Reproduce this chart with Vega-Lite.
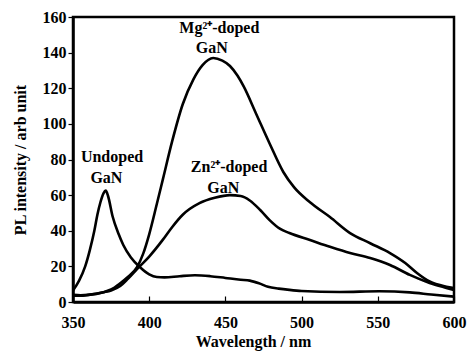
{
  "$schema": "https://vega.github.io/schema/vega-lite/v6.json",
  "width": 381,
  "height": 285,
  "autosize": {"type": "none"},
  "padding": {"left": 73, "top": 17, "right": 17, "bottom": 51},
  "background": "white",
  "config": {
    "view": {"stroke": "black", "strokeWidth": 2.5},
    "font": "Liberation Serif",
    "axis": {
      "grid": false,
      "domainColor": "black",
      "domainWidth": 2.5,
      "tickColor": "black",
      "tickWidth": 1.2,
      "labelFont": "Liberation Serif",
      "labelFontWeight": "bold",
      "labelFontSize": 16,
      "labelColor": "black",
      "labelOverlap": false,
      "titleFont": "Liberation Serif",
      "titleFontWeight": "bold",
      "titleFontSize": 16,
      "titleColor": "black"
    }
  },
  "datasets": {
    "spectra": [
      {"series": "Undoped", "wl": 350, "pl": 6.5},
      {"series": "Undoped", "wl": 354, "pl": 12},
      {"series": "Undoped", "wl": 358, "pl": 20},
      {"series": "Undoped", "wl": 361, "pl": 29},
      {"series": "Undoped", "wl": 364, "pl": 40},
      {"series": "Undoped", "wl": 366, "pl": 49},
      {"series": "Undoped", "wl": 368, "pl": 56},
      {"series": "Undoped", "wl": 370, "pl": 61},
      {"series": "Undoped", "wl": 371.5, "pl": 62.5},
      {"series": "Undoped", "wl": 373, "pl": 59.5},
      {"series": "Undoped", "wl": 376, "pl": 48},
      {"series": "Undoped", "wl": 380, "pl": 38},
      {"series": "Undoped", "wl": 383, "pl": 32},
      {"series": "Undoped", "wl": 388, "pl": 25},
      {"series": "Undoped", "wl": 394, "pl": 19.5},
      {"series": "Undoped", "wl": 400, "pl": 15.5},
      {"series": "Undoped", "wl": 405, "pl": 14},
      {"series": "Undoped", "wl": 410, "pl": 13.8},
      {"series": "Undoped", "wl": 420, "pl": 14.5},
      {"series": "Undoped", "wl": 430, "pl": 15},
      {"series": "Undoped", "wl": 440, "pl": 14.5},
      {"series": "Undoped", "wl": 450, "pl": 13.5},
      {"series": "Undoped", "wl": 460, "pl": 12.5},
      {"series": "Undoped", "wl": 466, "pl": 12},
      {"series": "Undoped", "wl": 472, "pl": 10.5},
      {"series": "Undoped", "wl": 478, "pl": 8.5},
      {"series": "Undoped", "wl": 485, "pl": 7.5},
      {"series": "Undoped", "wl": 492, "pl": 6.8},
      {"series": "Undoped", "wl": 500, "pl": 6.2},
      {"series": "Undoped", "wl": 525, "pl": 5.6},
      {"series": "Undoped", "wl": 551, "pl": 6},
      {"series": "Undoped", "wl": 571, "pl": 5.4},
      {"series": "Undoped", "wl": 585, "pl": 4.2},
      {"series": "Undoped", "wl": 600, "pl": 3},
      {"series": "Mg", "wl": 350, "pl": 4},
      {"series": "Mg", "wl": 355, "pl": 3.8},
      {"series": "Mg", "wl": 360, "pl": 4},
      {"series": "Mg", "wl": 370, "pl": 5.5},
      {"series": "Mg", "wl": 375, "pl": 7},
      {"series": "Mg", "wl": 381, "pl": 10.5},
      {"series": "Mg", "wl": 386, "pl": 14},
      {"series": "Mg", "wl": 392, "pl": 19.5},
      {"series": "Mg", "wl": 396, "pl": 27},
      {"series": "Mg", "wl": 400, "pl": 38},
      {"series": "Mg", "wl": 405, "pl": 55},
      {"series": "Mg", "wl": 409, "pl": 69},
      {"series": "Mg", "wl": 415, "pl": 90},
      {"series": "Mg", "wl": 422, "pl": 111},
      {"series": "Mg", "wl": 429, "pl": 125},
      {"series": "Mg", "wl": 435, "pl": 133},
      {"series": "Mg", "wl": 442, "pl": 137},
      {"series": "Mg", "wl": 448, "pl": 135.5},
      {"series": "Mg", "wl": 453, "pl": 132.5},
      {"series": "Mg", "wl": 458, "pl": 127},
      {"series": "Mg", "wl": 462, "pl": 121},
      {"series": "Mg", "wl": 470, "pl": 106},
      {"series": "Mg", "wl": 479, "pl": 89},
      {"series": "Mg", "wl": 488, "pl": 73},
      {"series": "Mg", "wl": 495, "pl": 64.5},
      {"series": "Mg", "wl": 505.5, "pl": 56},
      {"series": "Mg", "wl": 518.6, "pl": 47.7},
      {"series": "Mg", "wl": 531.8, "pl": 38.7},
      {"series": "Mg", "wl": 545, "pl": 33},
      {"series": "Mg", "wl": 558, "pl": 27.5},
      {"series": "Mg", "wl": 568, "pl": 21.9},
      {"series": "Mg", "wl": 575.7, "pl": 16.3},
      {"series": "Mg", "wl": 584, "pl": 11.5},
      {"series": "Mg", "wl": 595, "pl": 8.6},
      {"series": "Mg", "wl": 600, "pl": 7.8},
      {"series": "Zn", "wl": 350, "pl": 3.5},
      {"series": "Zn", "wl": 355, "pl": 3.5},
      {"series": "Zn", "wl": 360, "pl": 4},
      {"series": "Zn", "wl": 370, "pl": 5.5},
      {"series": "Zn", "wl": 375, "pl": 6.5},
      {"series": "Zn", "wl": 381, "pl": 9},
      {"series": "Zn", "wl": 386, "pl": 13},
      {"series": "Zn", "wl": 392, "pl": 18.5},
      {"series": "Zn", "wl": 400, "pl": 25.5},
      {"series": "Zn", "wl": 409, "pl": 35},
      {"series": "Zn", "wl": 415, "pl": 42},
      {"series": "Zn", "wl": 422, "pl": 49},
      {"series": "Zn", "wl": 433, "pl": 55.5},
      {"series": "Zn", "wl": 443, "pl": 58.5},
      {"series": "Zn", "wl": 453, "pl": 60},
      {"series": "Zn", "wl": 460, "pl": 59.5},
      {"series": "Zn", "wl": 466, "pl": 57},
      {"series": "Zn", "wl": 473, "pl": 51.5},
      {"series": "Zn", "wl": 479, "pl": 46},
      {"series": "Zn", "wl": 486, "pl": 41},
      {"series": "Zn", "wl": 492, "pl": 38.7},
      {"series": "Zn", "wl": 505.5, "pl": 34.8},
      {"series": "Zn", "wl": 518.6, "pl": 31},
      {"series": "Zn", "wl": 531.8, "pl": 27.5},
      {"series": "Zn", "wl": 545, "pl": 24.7},
      {"series": "Zn", "wl": 558, "pl": 20.8},
      {"series": "Zn", "wl": 571, "pl": 15.2},
      {"series": "Zn", "wl": 584, "pl": 10.7},
      {"series": "Zn", "wl": 595, "pl": 7.9},
      {"series": "Zn", "wl": 600, "pl": 6.7}
    ],
    "labels": [
      {"text": "Undoped", "wl": 375.6, "pl": 78.6},
      {"text": "GaN", "wl": 371.9, "pl": 66.8},
      {"text": "Mg²⁺-doped", "wl": 446, "pl": 151},
      {"text": "GaN", "wl": 441, "pl": 139.8},
      {"text": "Zn²⁺-doped", "wl": 452.4, "pl": 73.2},
      {"text": "GaN", "wl": 448.6, "pl": 61.4}
    ]
  },
  "encoding": {
    "x": {
      "field": "wl", "type": "quantitative",
      "scale": {"domain": [350, 600], "nice": false, "zero": false},
      "axis": {
        "title": "Wavelength / nm",
        "values": [350, 400, 450, 500, 550, 600],
        "tickSize": -6,
        "labelPadding": 18,
        "titlePadding": 3,
        "titleX": 180,
        "labelFlush": false
      }
    },
    "y": {
      "field": "pl", "type": "quantitative",
      "scale": {"domain": [0, 160], "nice": false},
      "axis": {
        "title": "PL intensity / arb unit",
        "values": [0, 20, 40, 60, 80, 100, 120, 140, 160],
        "tickSize": 5,
        "labelPadding": 2,
        "titlePadding": 14,
        "labelFlush": false
      }
    }
  },
  "layer": [
    {
      "data": {"name": "spectra"},
      "mark": {"type": "line", "color": "black", "strokeWidth": 2.6, "interpolate": "monotone", "clip": true},
      "encoding": {
        "detail": {"field": "series"}
      }
    },
    {
      "data": {"name": "labels"},
      "mark": {"type": "text", "font": "Liberation Serif", "fontWeight": "bold", "fontSize": 16, "color": "black", "align": "center", "baseline": "alphabetic"},
      "encoding": {
        "text": {"field": "text"}
      }
    }
  ]
}
